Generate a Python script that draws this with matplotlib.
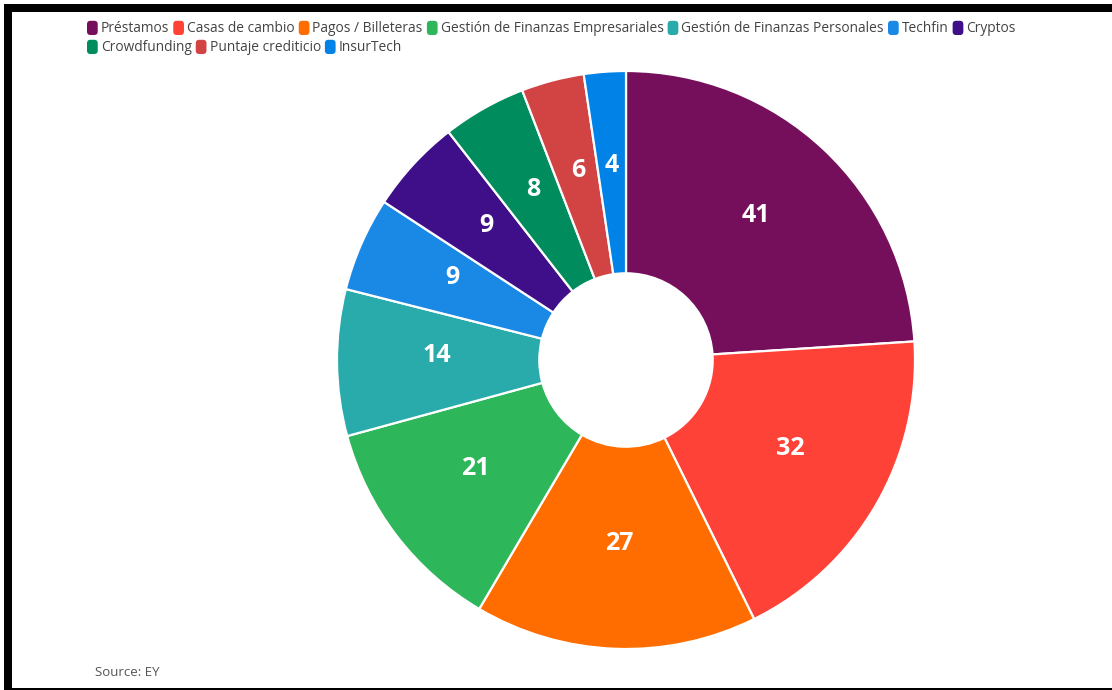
import matplotlib
matplotlib.use("Agg")
import matplotlib.pyplot as plt
import matplotlib.transforms as mtransforms
from matplotlib.patches import Patch, FancyBboxPatch, Rectangle
from matplotlib.legend_handler import HandlerPatch

categories = ["Préstamos", "Casas de cambio", "Pagos / Billeteras",
              "Gestión de Finanzas Empresariales", "Gestión de Finanzas Personales",
              "Techfin", "Cryptos", "Crowdfunding", "Puntaje crediticio", "InsurTech"]
values = [41, 32, 27, 21, 14, 9, 9, 8, 6, 4]
colors = ["#750F5B", "#FF4238", "#FF6D00", "#2EB65A", "#29ABAB",
          "#1A88E5", "#3E0F88", "#008C5C", "#D24444", "#0082E6"]
source_text = "Source: EY"

W, H = 1112, 690
fig = plt.figure(figsize=(W / 100, H / 100), dpi=100)
fig.patch.set_facecolor("white")

# frame
fig.add_artist(Rectangle((4 / W, 1 - 12 / H), (W - 4) / W, 8 / H, transform=fig.transFigure,
                         facecolor="black", edgecolor="none"))
fig.add_artist(Rectangle((4 / W, 0), 8 / W, 1 - 4 / H, transform=fig.transFigure,
                         facecolor="black", edgecolor="none"))
fig.add_artist(Rectangle((4 / W, 0), (W - 4) / W, 2.5 / H, transform=fig.transFigure,
                         facecolor="black", edgecolor="none"))

cx, cy, R = 626, 360, 289
ax = fig.add_axes([(cx - R) / W, (H - cy - R) / H, 2 * R / W, 2 * R / H])
total = sum(values)
wedges, texts, autotexts = ax.pie(
    values, colors=colors, startangle=90, counterclock=False, radius=1,
    wedgeprops=dict(width=0.7, edgecolor="white", linewidth=1.6),
    autopct=lambda p: f"{round(p * total / 100)}", pctdistance=0.655,
    textprops=dict(color="white", fontsize=18, fontweight="bold", family="Open Sans"))
ax.set_xlim(-1, 1)
ax.set_ylim(-1, 1)
ax.set_aspect("equal")
ax.axis("off")
shift = mtransforms.offset_copy(ax.transData, fig=fig, x=0, y=6, units="dots")
for t in autotexts:
    t.set_transform(shift)


class RoundHandler(HandlerPatch):
    def create_artists(self, legend, orig_handle, xdescent, ydescent, width, height, fontsize, trans):
        p = FancyBboxPatch((-xdescent, -ydescent - 2), width, height + 3,
                           boxstyle="round,pad=0,rounding_size=2.5",
                           facecolor=orig_handle.get_facecolor(), edgecolor="none",
                           transform=trans)
        return [p]


handles = [Patch(facecolor=c) for c in colors]
common = dict(frameon=False, handlelength=0.78, handleheight=0.75,
              handletextpad=0.22, columnspacing=0.3, borderpad=0, borderaxespad=0,
              handler_map={Patch: RoundHandler()}, labelcolor="#444444",
              prop=dict(family="Open Sans", size=9.9))
leg1 = fig.legend(handles[:7], categories[:7], ncol=7, loc="center left",
                  bbox_to_anchor=(87 / W, 1 - 28.5 / H), **common)
leg2 = fig.legend(handles[7:], categories[7:], ncol=3, loc="center left",
                  bbox_to_anchor=(87 / W, 1 - 47.5 / H), **common)

fig.text(95 / W, 1 - 673 / H, source_text, fontsize=9.5, color="#555555",
         family="Open Sans", va="center", ha="left")

fig.savefig("out.png", dpi=100, facecolor="white")
